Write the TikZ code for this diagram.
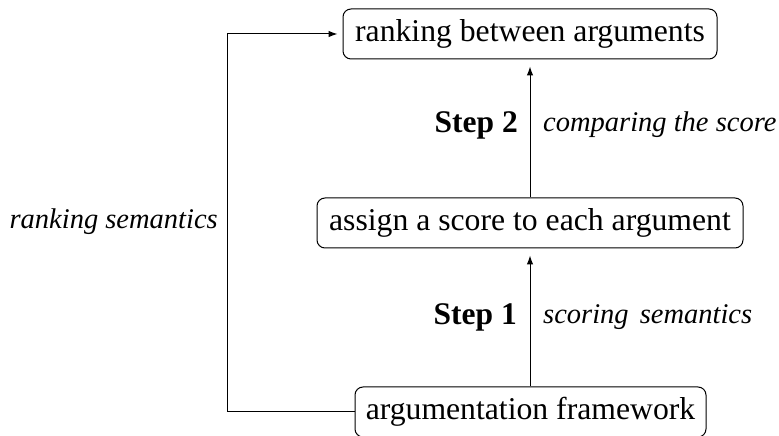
\documentclass[tikz,border=0pt]{standalone}
\usepackage{fontspec}
\setmainfont{Liberation Serif}
\usetikzlibrary{arrows.meta}
\begin{document}
\begin{tikzpicture}[x=1pt,y=1pt,
  box/.style={draw,line width=1pt,rounded corners=8pt,inner sep=0pt,minimum height=50pt,font=\fontsize{31.7}{36}\selectfont},
  lab/.style={inner sep=0pt,font=\fontsize{28.5}{33}\selectfont\itshape},
  steplab/.style={inner sep=0pt,font=\fontsize{31.5}{36}\selectfont\bfseries},
  conn/.style={line width=1pt,-{Latex[length=9pt,width=6.5pt]},shorten >=7pt}]
\useasboundingbox (0,0) rectangle (779,436);
\node[box,minimum width=374pt] (top) at (530,402) {ranking between arguments};
\node[box,minimum width=426pt] (mid) at (530,213) {assign a score to each argument};
\node[box,minimum width=351pt] (bot) at (530.5,24) {argumentation framework};
\coordinate (lc) at (227,24);
\draw[conn] (bot.north -| mid.south) -- (mid.south);
\draw[conn] (mid.north) -- (top.south);
\draw[conn,shorten >=5pt] (bot.west) -- (lc) |- (top.west);
\node[steplab,anchor=east] (s2) at (518,311) {Step 2};
\node[lab,anchor=west] (c2) at (543,311) {comparing the score};
\node[steplab,anchor=east] (s1) at (517,119) {Step 1};
\node[lab,anchor=west] (c1) at (543,119) {scoring\hspace{4pt} semantics};
\node[lab,anchor=east] (rs) at (218,214) {ranking semantics};
\end{tikzpicture}
\end{document}
